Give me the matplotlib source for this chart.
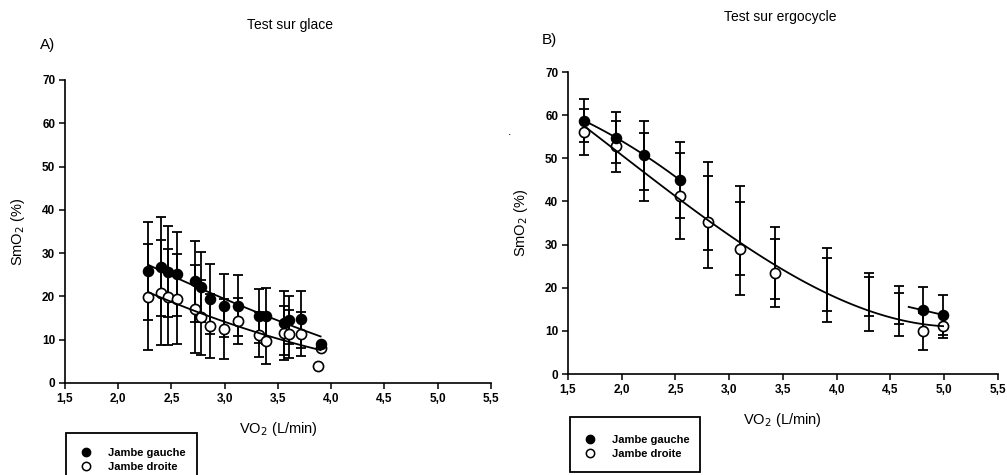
import numpy as np
import matplotlib
matplotlib.use("Agg")
import matplotlib.pyplot as plt
from matplotlib.patches import Rectangle
from matplotlib.lines import Line2D

plt.rcParams['font.family'] = ['Liberation Sans', 'DejaVu Sans']

# ---- panel A : test sur glace ----
a_x_g = [2.275, 2.40, 2.47, 2.55, 2.72, 2.78, 2.865, 2.99, 3.12, 3.32, 3.39, 3.56, 3.60, 3.72, 3.90]
a_y_g = [25.9, 26.9, 25.7, 25.2, 23.5, 22.1, 19.4, 17.9, 17.9, 15.5, 15.5, 13.9, 14.5, 14.7, 8.9]
a_e_g = [11.3, 11.4, 10.5, 9.7, 9.3, 8.1, 8.1, 7.3, 7.0, 6.3, 6.4, 7.4, 5.6, 6.6, 0.0]

a_x_d = [2.275, 2.40, 2.47, 2.55, 2.72, 2.78, 2.865, 2.99, 3.12, 3.32, 3.39, 3.56, 3.60, 3.72, 3.88, 3.90]
a_y_d = [19.9, 20.9, 19.9, 19.5, 17.1, 15.2, 13.2, 12.4, 14.3, 11.1, 9.8, 11.5, 11.3, 11.3, 4.0, 8.0]
a_e_d = [12.2, 12.1, 11.1, 10.4, 10.1, 8.7, 7.4, 6.9, 5.3, 5.2, 5.3, 6.3, 5.6, 5.0, 0.0, 0.0]

# ---- panel B : test sur ergocycle ----
b_x = [1.65, 1.95, 2.21, 2.54, 2.80, 3.10, 3.43, 3.91, 4.30, 4.58, 4.80, 4.99]
b_y_g = [58.7, 54.8, 50.7, 45.0, 39.0, 33.3, 25.7, 22.0, 18.5, 16.1, 14.8, 13.7]
b_e_g = [5.0, 6.0, 8.0, 8.8, 10.2, 10.3, 8.3, 7.3, 5.0, 4.4, 5.4, 4.6]
b_show_g = [1, 1, 1, 1, 0, 0, 0, 0, 0, 0, 1, 1]
b_y_d = [56.1, 52.8, 48.0, 41.3, 35.3, 29.0, 23.5, 19.4, 16.3, 13.7, 9.9, 11.1]
b_e_d = [5.4, 5.9, 7.9, 10.0, 10.7, 10.8, 7.9, 7.4, 6.3, 5.0, 4.3, 2.8]
b_show_d = [1, 1, 0, 1, 1, 1, 1, 0, 0, 0, 1, 1]

x_ticks = [1.5, 2.0, 2.5, 3.0, 3.5, 4.0, 4.5, 5.0, 5.5]
x_labels = ["1,5", "2,0", "2,5", "3,0", "3,5", "4,0", "4,5", "5,0", "5,5"]
y_ticks = [0, 10, 20, 30, 40, 50, 60, 70]
legend_labels = ["Jambe gauche", "Jambe droite"]

fig = plt.figure(figsize=(10.07, 4.75), dpi=100)
axA = fig.add_axes([0.0645, 0.1937, 0.4231, 0.6379])
axB = fig.add_axes([0.5640, 0.2126, 0.4270, 0.6358])

ekw = dict(fmt='none', ecolor='black', elinewidth=1.3, capsize=3.6, capthick=1.3)


def style_axis(ax):
    ax.set_xlim(1.5, 5.5)
    ax.set_ylim(0, 70)
    ax.set_xticks(x_ticks)
    ax.set_xticklabels(x_labels)
    ax.set_yticks(y_ticks)
    for s in ['top', 'right']:
        ax.spines[s].set_visible(False)
    for s in ['left', 'bottom']:
        ax.spines[s].set_linewidth(1.2)
    ax.tick_params(direction='out', length=4, width=1.1, labelsize=8.5, pad=3)
    for lab in ax.get_xticklabels() + ax.get_yticklabels():
        lab.set_fontweight('bold')
    ax.set_xlabel("VO$_2$ (L/min)", fontsize=10.5, labelpad=11)
    ax.set_ylabel("SmO$_2$ (%)", fontsize=10.5, labelpad=11)


def fit_line(ax, x, y, deg, x0, x1):
    c = np.polyfit(x, y, deg)
    xs = np.linspace(x0, x1, 100)
    ax.plot(xs, np.polyval(c, xs), color='black', lw=1.3, zorder=4)


# panel A
axA.errorbar(a_x_d, a_y_d, yerr=a_e_d, **ekw, zorder=2)
axA.errorbar(a_x_g, a_y_g, yerr=a_e_g, **ekw, zorder=2)
axA.plot(a_x_d, a_y_d, 'o', ms=7.3, mfc='white', mec='black', mew=1.2, zorder=3)
axA.plot(a_x_g, a_y_g, 'o', ms=7.3, mfc='black', mec='black', zorder=5)
fit_line(axA, a_x_g, a_y_g, 2, 2.28, 3.90)
fit_line(axA, a_x_d, a_y_d, 2, 2.28, 3.90)
style_axis(axA)

# panel B
bx = np.array(b_x)
sg = np.array(b_show_g, bool)
sd = np.array(b_show_d, bool)
axB.errorbar(b_x, b_y_d, yerr=b_e_d, **ekw, zorder=2)
axB.errorbar(b_x, b_y_g, yerr=b_e_g, **ekw, zorder=2)
axB.plot(bx[sd], np.array(b_y_d)[sd], 'o', ms=7.3, mfc='white', mec='black', mew=1.2, zorder=3)
axB.plot(bx[sg], np.array(b_y_g)[sg], 'o', ms=7.3, mfc='black', mec='black', zorder=5)
fit_line(axB, b_x, b_y_d, 3, 1.65, 4.99)
fit_line(axB, b_x[:4], b_y_g[:4], 2, 1.65, 2.54)
fit_line(axB, b_x[10:], b_y_g[10:], 1, 4.67, 4.99)
style_axis(axB)

# titles and panel letters
fig.text(0.288, 0.947, "Test sur glace", ha='center', va='center', fontsize=10)
fig.text(0.040, 0.905, "A)", ha='left', va='center', fontsize=11)
fig.text(0.775, 0.964, "Test sur ergocycle", ha='center', va='center', fontsize=10)
fig.text(0.538, 0.916, "B)", ha='left', va='center', fontsize=11)
fig.text(0.506, 0.722, ".", ha='center', va='center', fontsize=9)

# legends
handles = [Line2D([], [], ls='none', marker='o', ms=6, mfc='black', mec='black'),
           Line2D([], [], ls='none', marker='o', ms=6, mfc='white', mec='black', mew=1.1)]

fig.patches.append(Rectangle((66 / 1007, -0.05), 131 / 1007, 1 - 433 / 475 + 0.05,
                             transform=fig.transFigure, fill=False, lw=1.3, ec='black'))
fig.legend(handles, legend_labels, loc='upper left', bbox_to_anchor=(70 / 1007, 1 - 440 / 475),
           frameon=False, handletextpad=1.2, labelspacing=0.35, handlelength=1.5,
           borderpad=0.2, prop={'weight': 'bold', 'size': 8})

fig.patches.append(Rectangle((570 / 1007, 1 - 472 / 475), 130 / 1007, 55 / 475,
                             transform=fig.transFigure, fill=False, lw=1.3, ec='black'))
fig.legend(handles, legend_labels, loc='upper left', bbox_to_anchor=(574 / 1007, 1 - 427 / 475),
           frameon=False, handletextpad=1.2, labelspacing=0.35, handlelength=1.5,
           borderpad=0.2, prop={'weight': 'bold', 'size': 8})

fig.savefig("out.png", dpi=100)
